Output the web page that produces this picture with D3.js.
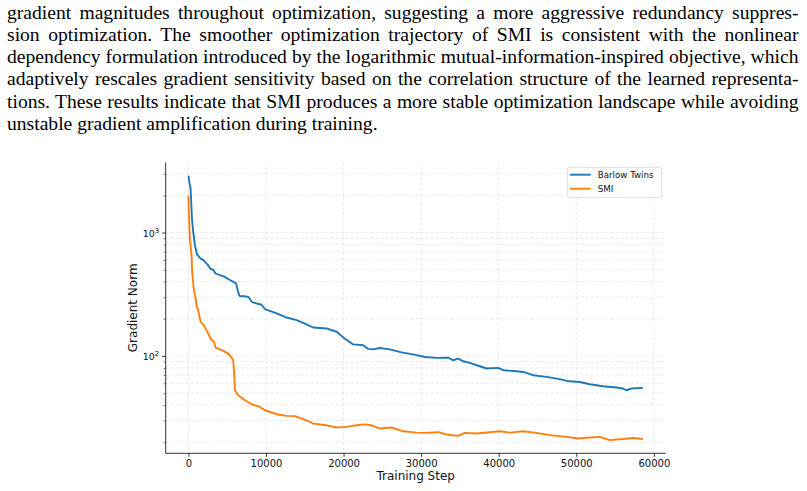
<!DOCTYPE html>
<html><head><meta charset="utf-8">
<script src="https://cdn.jsdelivr.net/npm/d3@7"></script>
<style>
html,body{margin:0;padding:0;background:#fff;}
svg{display:block;}
</style></head>
<body>
<svg id="fig" width="807" height="491"></svg>
<script>
// ---------- DATA ----------
const paragraphLines = [
  "gradient magnitudes throughout optimization, suggesting a more aggressive redundancy suppres-",
  "sion optimization.  The smoother optimization trajectory of SMI is consistent with the nonlinear",
  "dependency formulation introduced by the logarithmic mutual-information-inspired objective, which",
  "adaptively rescales gradient sensitivity based on the correlation structure of the learned representa-",
  "tions. These results indicate that SMI produces a more stable optimization landscape while avoiding",
  "unstable gradient amplification during training."
];
const seriesNames = ["Barlow Twins", "SMI"];
const seriesColors = ["#1f77b4", "#ff7f0e"];
const xLabel = "Training Step";
const yLabel = "Gradient Norm";
const xTicks = [0, 10000, 20000, 30000, 40000, 50000, 60000];
const yMajorTicks = [100, 1000];

const stepsBT = [0,150,280,450,620,840,1100,1570,1910,2470,2860,3200,3460,3630,4320,4490,5350,5990,6120,6210,6380,6550,6640,7500,7750,8140,8270,9430,9860,11370,12440,13940,15010,16080,17810,19100,20170,21240,22530,23170,23810,24680,25970,27470,28970,30480,31990,33480,34120,34770,35410,36280,37560,38430,39920,40570,42290,43150,44440,46160,47870,48740,50450,51740,53450,55180,56030,56470,57110,58600];
const valuesBT = [2900,2500,2270,1300,1010,790,667,615,600,550,507,500,468,462,445,443,413,393,388,374,334,310,306,303,300,276,272,260,240,221,207,195,183,170,167,157,138,124,122,114,113,116,113,107,103,98,96.4,97,92.3,95.2,90.6,87.8,82.5,79.1,80,76.6,75.2,74.2,69.8,67.6,64.8,62.7,61.5,59,56.8,55.5,54.4,52.7,54.4,55.1];

const stepsSMI = [0,30,100,190,410,490,710,930,1060,1260,1570,2000,2550,2990,3290,3500,4490,5130,5570,5770,5900,5990,6420,7280,8140,9210,9860,11370,12660,13720,15230,16080,17810,19100,20390,21680,22750,23610,24680,26190,27680,29410,30700,32190,33270,34770,35630,37140,38850,40140,41430,43150,44870,46580,48740,50230,51740,53030,54320,56030,57320,58600];
const valuesSMI = [2000,1600,1220,894,640,470,340,292,252,235,189,177,152,134,130,117,110,104.5,97,92.3,72,52.7,48,43.7,40.6,38.6,36.3,33.7,32.7,32.5,30.1,28.3,27.4,26.3,26.6,27.4,27.9,27.4,25.8,26.3,24.5,23.9,23.8,24.1,23.1,22.5,23.8,23.5,24.1,24.5,23.9,24.5,23.8,22.8,22.1,21.4,21.8,22.1,20.8,21.2,21.6,21.2];

// ---------- DRAW ----------
const svg = d3.select("#fig");
svg.append("rect").attr("width",807).attr("height",491).attr("fill","#fff");

// paragraph (justified by word spacing)
const para = svg.append("g").attr("font-family","'Liberation Serif','Times New Roman',serif").attr("fill","#000");
const pLeft = 7, pRight = 799, pBase = 18.5, pLead = 22.3;
const target = pRight - pLeft;
const clean = paragraphLines.map(l => l.replace(/\s+/g," "));
// find font size so every line fits naturally
const probe = para.append("text").attr("font-size",20);
let maxW = 0;
clean.forEach(l => { probe.text(l); maxW = Math.max(maxW, probe.node().getComputedTextLength()); });
probe.remove();
const fs = Math.min(20, 20*(target-1)/maxW);
para.attr("font-size", fs);
clean.forEach((l, i) => {
  const t = para.append("text").attr("x", pLeft).attr("y", pBase + i*pLead).text(l);
  if (i < clean.length - 1) {
    const w = t.node().getComputedTextLength();
    const nSp = (l.match(/ /g) || []).length;
    if (w < target && nSp > 0) t.style("word-spacing", ((target - 0.5 - w)/nSp) + "px");
  }
});

// chart
const plotL = 165.7, plotR = 665.7, plotT = 162.3, plotB = 453.3;
const allSteps = stepsBT.concat(stepsSMI);
const xMin = d3.min(allSteps), xMax = d3.max(allSteps);
const xPad = (xMax - xMin)*0.05;
const x = d3.scaleLinear().domain([xMin - xPad, xMax + xPad]).range([plotL, plotR]);
const allVals = valuesBT.concat(valuesSMI);
const lMin = Math.log10(d3.min(allVals)), lMax = Math.log10(d3.max(allVals));
const lPad = (lMax - lMin)*0.05;
const y = d3.scaleLog().domain([Math.pow(10,lMin-lPad), Math.pow(10,lMax+lPad)]).range([plotB, plotT]);

const chart = svg.append("g").attr("font-family","'DejaVu Sans',sans-serif");

// minor y ticks
const yd = y.domain();
const yMinor = [];
for (let e = Math.floor(Math.log10(yd[0])); e <= Math.ceil(Math.log10(yd[1])); e++) {
  for (let m = 2; m <= 9; m++) {
    const v = m*Math.pow(10,e);
    if (v >= yd[0] && v <= yd[1]) yMinor.push(v);
  }
}
// grid
const grid = chart.append("g").attr("stroke","#e3e3e3").attr("stroke-width",0.8).attr("stroke-dasharray","3,2").attr("fill","none");
xTicks.forEach(t => grid.append("line").attr("x1",x(t)).attr("x2",x(t)).attr("y1",plotT).attr("y2",plotB));
yMajorTicks.concat(yMinor).forEach(t => grid.append("line").attr("x1",plotL).attr("x2",plotR).attr("y1",y(t)).attr("y2",y(t)));

// lines
const line = d3.line().x(d => x(d[0])).y(d => y(d[1]));
const series = [d3.zip(stepsBT, valuesBT), d3.zip(stepsSMI, valuesSMI)];
series.forEach((s, i) => {
  chart.append("path").datum(s).attr("d", line).attr("fill","none")
    .attr("stroke", seriesColors[i]).attr("stroke-width",1.9).attr("stroke-linejoin","round").attr("stroke-linecap","butt");
});

// x axis
const xAxis = d3.axisBottom(x).tickValues(xTicks).tickFormat(d3.format("d")).tickSize(3.5).tickPadding(3);
const gx = chart.append("g").attr("transform",`translate(0,${plotB})`).call(xAxis);
gx.select(".domain").attr("stroke","#333").attr("stroke-width",1).attr("d",`M${plotL},0H${plotR}`);
gx.selectAll(".tick line").attr("stroke","#333");
gx.selectAll(".tick text").attr("font-size",10).attr("font-family","'DejaVu Sans',sans-serif").attr("fill","#111");

// y axis
const yAxis = d3.axisLeft(y).tickValues(yMajorTicks).tickFormat("").tickSize(3.5);
const gy = chart.append("g").attr("transform",`translate(${plotL},0)`).call(yAxis);
gy.select(".domain").attr("stroke","#333").attr("stroke-width",1).attr("d",`M0,${plotT}V${plotB}`);
gy.selectAll(".tick line").attr("stroke","#333");
const yAxisMinor = d3.axisLeft(y).tickValues(yMinor).tickFormat("").tickSize(2);
const gym = chart.append("g").attr("transform",`translate(${plotL},0)`).call(yAxisMinor);
gym.select(".domain").remove();
gym.selectAll(".tick line").attr("stroke","#333").attr("stroke-width",0.7);
// y tick labels 10^k
yMajorTicks.forEach(v => {
  const t = chart.append("text").attr("x", plotL - 6.5).attr("y", y(v) + 4).attr("text-anchor","end")
    .attr("font-size",9.5).attr("fill","#111");
  t.append("tspan").text("10");
  t.append("tspan").attr("font-size",6.8).attr("dy",-4).text(String(Math.round(Math.log10(v))));
});

// axis labels
chart.append("text").attr("x",(plotL+plotR)/2).attr("y",480).attr("text-anchor","middle").attr("font-size",12).attr("fill","#111").text(xLabel);
chart.append("text").attr("transform",`translate(136.5,${(plotT+plotB)/2}) rotate(-90)`).attr("text-anchor","middle").attr("font-size",12).attr("fill","#111").text(yLabel);

// legend
const lg = chart.append("g").attr("transform","translate(567.3,167.3)");
lg.append("rect").attr("width",94.4).attr("height",30).attr("rx",2).attr("fill","#fff").attr("fill-opacity",0.8).attr("stroke","#d6d6d6").attr("stroke-width",0.8);
seriesNames.forEach((n, i) => {
  const yy = 7.4 + i*14;
  lg.append("line").attr("x1",2.7).attr("x2",23.4).attr("y1",yy).attr("y2",yy).attr("stroke",seriesColors[i]).attr("stroke-width",1.9);
  lg.append("text").attr("x",30.4).attr("y",yy+3).attr("font-size",8.7).attr("fill","#111").text(n);
});
</script>
</body></html>
